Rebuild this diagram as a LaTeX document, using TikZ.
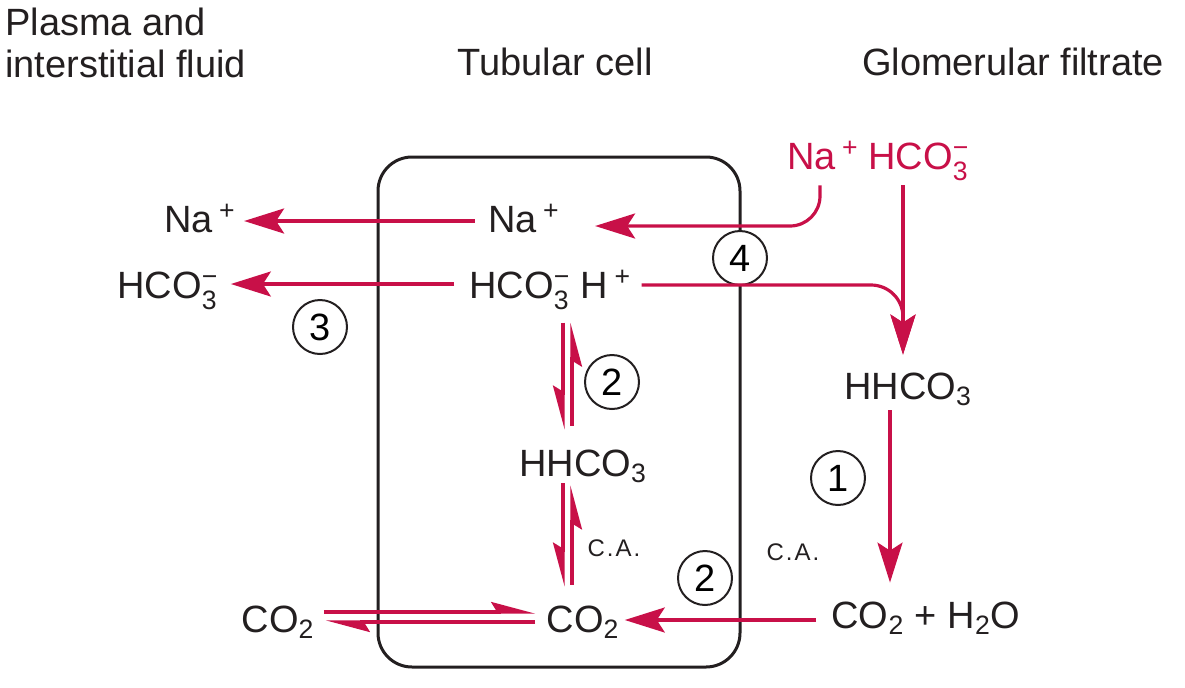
\documentclass[tikz,border=0pt]{standalone}
\usepackage{amsmath}
\usepackage{fontspec}
\setmainfont{Liberation Sans}
\usetikzlibrary{arrows.meta,calc}
\definecolor{acidred}{RGB}{200,16,72}
\definecolor{inkblack}{RGB}{35,31,32}
% stacked charge and index
\newcommand{\supsub}[2]{$^{\text{#1}}_{\text{#2}}$}

\begin{document}
\begin{tikzpicture}[x=0.5pt,y=-0.5pt,
	chem/.style={font=\fontsize{19}{23}\selectfont, text height=14pt, text depth=0pt, inner sep=0pt, text=inkblack},
	title/.style={font=\fontsize{19}{23}\selectfont, inner sep=0pt, text=inkblack},
	small/.style={font=\fontsize{12}{14}\selectfont, inner sep=0pt, text=inkblack},
	num/.style={circle, draw=inkblack, line width=1pt, fill=white, minimum size=27pt, inner sep=0pt, font=\fontsize{19}{23}\selectfont},
	flow/.style={draw=acidred, line width=1.6pt, -{Stealth[length=20pt,width=12.5pt,inset=4pt]}},
	hleft/.style={draw=acidred, line width=1.6pt, -{Stealth[harpoon,length=19pt,width=10pt,inset=3pt]}},
	hright/.style={draw=acidred, line width=1.6pt, -{Stealth[harpoon,swap,length=19pt,width=10pt,inset=3pt]}}]
\useasboundingbox (0,0) rectangle (1185,687);
% headings
	\node[title, anchor=base west] (plasma) at (5,35) {Plasma and};
	\node[title, anchor=base west] (interst) at (5,77) {interstitial fluid};
	\node[title, anchor=base] (tubular) at (555,75) {Tubular cell};
	\node[title, anchor=base] (glom) at (1013,75) {Glomerular filtrate};
% the cell
	\draw[inkblack, line width=1.5pt, rounded corners=17pt] (378,157) rectangle (740,667);
% species
	\node[chem] (naOut) at (200,218) {Na\,\textsuperscript{+}};
	\node[chem] (naIn) at (524,218) {Na\,\textsuperscript{+}};
	\node[chem] (hcoOut) at (168,284) {HCO\supsub{−}{3}};
	\node[chem] (hcoIn) at (520,284) {HCO\supsub{−}{3}};
	\node[chem] (hIn) at (606,284) {H\,\textsuperscript{+}};
	\node[chem, text=acidred] (naF) at (823,155) {Na\,\textsuperscript{+}};
	\node[chem, text=acidred] (hcoF) at (919,155) {HCO\supsub{−}{3}};
	\node[chem] (hhcoF) at (908,385) {HHCO\textsubscript{3}};
	\node[chem] (hhcoIn) at (583,462) {HHCO\textsubscript{3}};
	\node[chem] (co2In) at (583,618) {CO\textsubscript{2}};
	\node[chem] (co2Out) at (278,618) {CO\textsubscript{2}};
	\node[chem] (co2F) at (926,614) {CO\textsubscript{2} + H\textsubscript{2}O};
	\node[small] (caIn) at (614,548) {C\kern1pt.\kern1pt A\kern1pt.};
	\node[small] (caF) at (793,552) {C\kern1pt.\kern1pt A\kern1pt.};
% numbered steps
	\node[num] (n3) at (320,327) {3};
	\node[num] (n4) at (740,258) {4};
	\node[num] (n2a) at (612,382) {2};
	\node[num] (n1) at (838,478) {1};
	\node[num] (n2b) at (705,578) {2};
% transport
	\draw[flow] ($(naIn.west)+(-13,3)$) -- ($(naOut.east)+(8,3)$);
	\draw[flow] ($(hcoIn.west)+(-15,0)$) -- ($(hcoOut.east)+(12,0)$);
	\draw[flow, rounded corners=15pt] ($(naF.south)+(-3,16)$) |- ($(naIn.east)+(35,8)$);
	\coordinate (merge) at ($(hhcoF.north)+(-5,-16)$);
	\draw[flow, rounded corners=16pt] ($(hIn.east)+(10,1)$) -| (merge);
	\draw[flow] ($(hcoF.south)+(-16,16)$) -- (merge);
	\draw[flow] ($(hhcoF.south)+(-18,11)$) -- ($(co2F.north)+(-36,-17)$);
	\draw[flow] ($(co2F.west)+(-15,6)$) -- ($(co2In.east)+(5,2)$);
% reversible steps
	\draw[hleft] ($(co2Out.east)+(9,-6)$) -- ($(co2In.west)+(-11,-6)$);
	\draw[hleft] ($(co2In.west)+(-11,4)$) -- ($(co2Out.east)+(11,4)$);
	\draw[hright] ($(hhcoIn.north)+(-20,-125)$) -- ($(hhcoIn.north)+(-20,-18)$);
	\draw[hright] ($(hhcoIn.north)+(-11,-22)$) -- ($(hhcoIn.north)+(-11,-125)$);
	\draw[hright] ($(hhcoIn.south)+(-20,7)$) -- ($(co2In.north)+(-20,-17)$);
	\draw[hright] ($(co2In.north)+(-11,-19)$) -- ($(hhcoIn.south)+(-11,9)$);
\end{tikzpicture}
\end{document}
